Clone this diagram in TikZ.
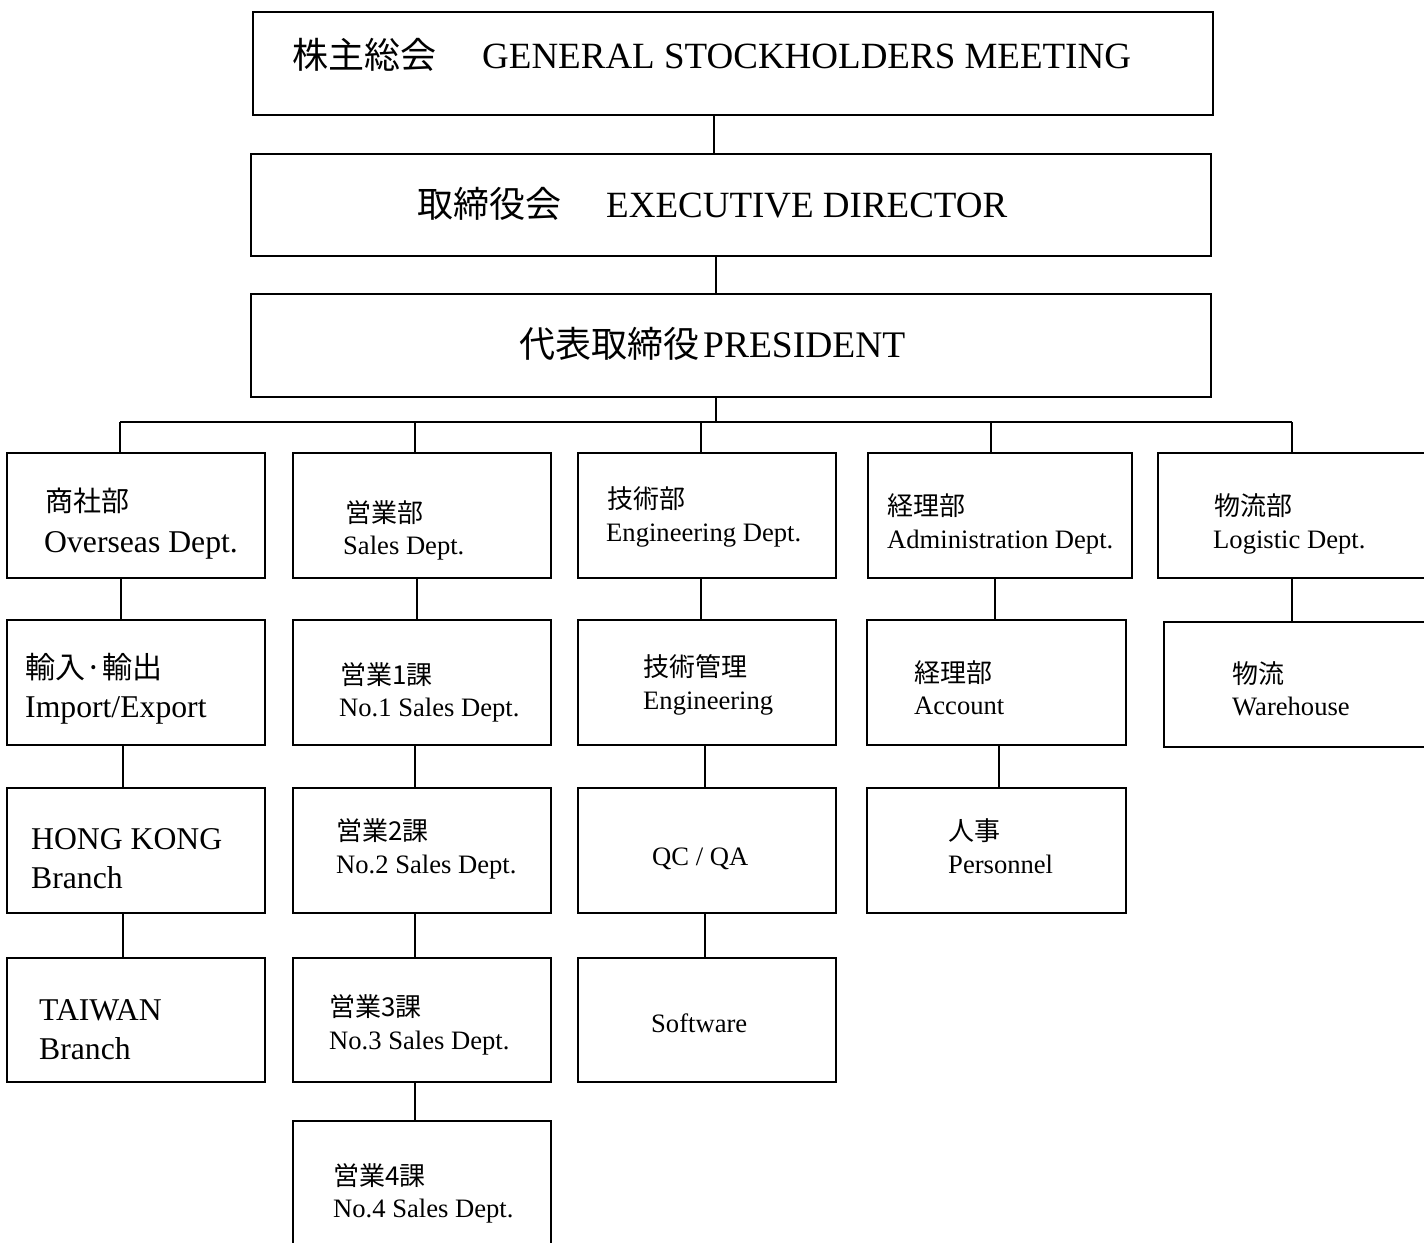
\documentclass[tikz,border=0pt]{standalone}
\usepackage{fontspec}
\setmainfont{Liberation Serif}
\newfontfamily\jp{Noto Sans CJK JP}
\begin{document}
\begin{tikzpicture}[x=1pt,y=-1pt,
  box/.style={draw, line width=1.8pt, inner sep=0pt, anchor=north west},
  conn/.style={line width=1.4pt},
  lbl/.style={anchor=base west, inner sep=0pt},
  jbig/.style={font=\jp\fontsize{36}{40}\selectfont},
  ebig/.style={font=\fontsize{37}{40}\selectfont},
  jmid/.style={font=\jp\fontsize{28}{30}\selectfont},
  jmidb/.style={font=\jp\fontsize{30}{30}\selectfont},
  emid/.style={font=\fontsize{31.7}{34}\selectfont},
  jsm/.style={font=\jp\fontsize{26}{28}\selectfont},
  esm/.style={font=\fontsize{26.6}{28}\selectfont}]
\useasboundingbox (0,0) rectangle (1424,1242);
\fill[white] (0,0) rectangle (1424,1242);

% top boxes
\node[box, minimum width=960pt, minimum height=103pt] (gsm) at (252,11) {};
\node[box, minimum width=960pt, minimum height=102pt] (exe) at (250,153) {};
\node[box, minimum width=960pt, minimum height=103pt] (pre) at (250,293) {};
\node[lbl] (tgsm) at (292,68) {{\jp\fontsize{36}{40}\selectfont 株主総会}\hspace{46pt}{\fontsize{37}{40}\selectfont GENERAL STOCKHOLDERS MEETING}};
\node[lbl] (texe) at (417,217) {{\jp\fontsize{36}{40}\selectfont 取締役会}\hspace{45pt}{\fontsize{37}{40}\selectfont EXECUTIVE DIRECTOR}};
\node[lbl] (tpre) at (519,357) {{\jp\fontsize{36}{40}\selectfont 代表取締役}\hspace{4pt}{\fontsize{37.5}{40}\selectfont PRESIDENT}};

% row 1
\node[box, minimum width=258pt, minimum height=125pt] (a1) at (6,452) {};
\node[box, minimum width=258pt, minimum height=125pt] (b1) at (292,452) {};
\node[box, minimum width=258pt, minimum height=125pt] (c1) at (577,452) {};
\node[box, minimum width=264pt, minimum height=125pt] (d1) at (867,452) {};
\node[box, minimum width=280pt, minimum height=125pt] (e1) at (1157,452) {};
% row 2
\node[box, minimum width=258pt, minimum height=125pt] (a2) at (6,619) {};
\node[box, minimum width=258pt, minimum height=125pt] (b2) at (292,619) {};
\node[box, minimum width=258pt, minimum height=125pt] (c2) at (577,619) {};
\node[box, minimum width=259pt, minimum height=125pt] (d2) at (866,619) {};
\node[box, minimum width=280pt, minimum height=125pt] (e2) at (1163,621) {};
% row 3
\node[box, minimum width=258pt, minimum height=125pt] (a3) at (6,787) {};
\node[box, minimum width=258pt, minimum height=125pt] (b3) at (292,787) {};
\node[box, minimum width=258pt, minimum height=125pt] (c3) at (577,787) {};
\node[box, minimum width=259pt, minimum height=125pt] (d3) at (866,787) {};
% row 4
\node[box, minimum width=258pt, minimum height=124pt] (a4) at (6,957) {};
\node[box, minimum width=258pt, minimum height=124pt] (b4) at (292,957) {};
\node[box, minimum width=258pt, minimum height=124pt] (c4) at (577,957) {};
% row 5
\node[box, minimum width=258pt, minimum height=140pt] (b5) at (292,1120) {};

% labels row 1
\node[lbl, jmid] (ta1j) at (45,511) {商社部};
\node[lbl, emid] (ta1e) at (44,552) {Overseas Dept.};
\node[lbl, jsm] (tb1j) at (345,522) {営業部};
\node[lbl, esm] (tb1e) at (343,554) {Sales Dept.};
\node[lbl, jsm] (tc1j) at (607,508) {技術部};
\node[lbl, esm] (tc1e) at (606,541) {Engineering Dept.};
\node[lbl, jsm] (td1j) at (887,515) {経理部};
\node[lbl, esm] (td1e) at (887,548) {Administration Dept.};
\node[lbl, jsm] (te1j) at (1214,515) {物流部};
\node[lbl, esm] (te1e) at (1213,548) {Logistic Dept.};
% labels row 2
\node[lbl, jmidb] (ta2j) at (25,678) {輸入·輸出};
\node[lbl, emid] (ta2e) at (25,717) {Import/Export};
\node[lbl, jsm] (tb2j) at (340,684) {営業1課};
\node[lbl, esm] (tb2e) at (339,716) {No.1 Sales Dept.};
\node[lbl, jsm] (tc2j) at (643,676) {技術管理};
\node[lbl, esm] (tc2e) at (643,709) {Engineering};
\node[lbl, jsm] (td2j) at (914,682) {経理部};
\node[lbl, esm] (td2e) at (914,714) {Account};
\node[lbl, jsm] (te2j) at (1232,683) {物流};
\node[lbl, esm] (te2e) at (1232,715) {Warehouse};
% labels row 3
\node[lbl, emid] (ta3a) at (31,849) {HONG KONG};
\node[lbl, emid] (ta3b) at (31,888) {Branch};
\node[lbl, jsm] (tb3j) at (336,840) {営業2課};
\node[lbl, esm] (tb3e) at (336,873) {No.2 Sales Dept.};
\node[lbl, esm] (tc3) at (652,865) {QC / QA};
\node[lbl, jsm] (td3j) at (948,840) {人事};
\node[lbl, esm] (td3e) at (948,873) {Personnel};
% labels row 4
\node[lbl, emid] (ta4a) at (39,1020) {TAIWAN};
\node[lbl, emid] (ta4b) at (39,1059) {Branch};
\node[lbl, jsm] (tb4j) at (329,1016) {営業3課};
\node[lbl, esm] (tb4e) at (329,1049) {No.3 Sales Dept.};
\node[lbl, esm] (tc4) at (651,1032) {Software};
% labels row 5
\node[lbl, jsm] (tb5j) at (333,1185) {営業4課};
\node[lbl, esm] (tb5e) at (333,1217) {No.4 Sales Dept.};

% connectors top
\draw[conn] ([xshift=-19pt]gsm.south) -- ([xshift=-17pt]exe.north);
\draw[conn] ([xshift=-15pt]exe.south) -- ([xshift=-15pt]pre.north);
\coordinate (busL) at (120,422);
\coordinate (busR) at (1292,422);
\draw[conn] ([xshift=-15pt]pre.south) -- ([xshift=-15pt]pre.south |- busL);
\draw[conn] (busL) -- (busR);
\draw[conn] (busL) -- (busL |- a1.north);
\draw[conn] ([xshift=-7pt]b1.north |- busL) -- ([xshift=-7pt]b1.north);
\draw[conn] ([xshift=-6pt]c1.north |- busL) -- ([xshift=-6pt]c1.north);
\draw[conn] ([xshift=-9pt]d1.north |- busL) -- ([xshift=-9pt]d1.north);
\draw[conn] (busR) -- (busR |- e1.north);

% column A
\draw[conn] ([xshift=-15pt]a1.south) -- ([xshift=-15pt]a2.north);
\draw[conn] ([xshift=-13pt]a2.south) -- ([xshift=-13pt]a3.north);
\draw[conn] ([xshift=-13pt]a3.south) -- ([xshift=-13pt]a4.north);
% column B
\draw[conn] ([xshift=-5pt]b1.south) -- ([xshift=-5pt]b2.north);
\draw[conn] ([xshift=-7pt]b2.south) -- ([xshift=-7pt]b3.north);
\draw[conn] ([xshift=-7pt]b3.south) -- ([xshift=-7pt]b4.north);
\draw[conn] ([xshift=-7pt]b4.south) -- ([xshift=-7pt]b5.north);
% column C
\draw[conn] ([xshift=-6pt]c1.south) -- ([xshift=-6pt]c2.north);
\draw[conn] ([xshift=-2pt]c2.south) -- ([xshift=-2pt]c3.north);
\draw[conn] ([xshift=-2pt]c3.south) -- ([xshift=-2pt]c4.north);
% column D
\draw[conn] ([xshift=-5pt]d1.south) -- ([xshift=-1.5pt]d2.north);
\draw[conn] ([xshift=2.5pt]d2.south) -- ([xshift=2.5pt]d3.north);
% column E
\draw[conn] (e1.south -| busR) -- (e2.north -| busR);
\end{tikzpicture}
\end{document}
